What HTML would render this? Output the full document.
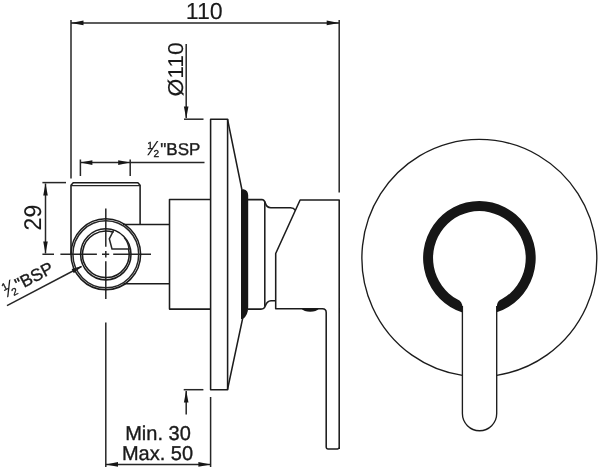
<!DOCTYPE html>
<html lang="en">
<head>
<meta charset="utf-8">
<title>Concealed shower mixer – dimension drawing</title>
<style>
  html, body { margin: 0; padding: 0; background: #ffffff; }
  body { width: 600px; height: 471px; overflow: hidden; }
  svg { display: block; }
  text { font-family: "Liberation Sans", Arial, Helvetica, sans-serif; fill: #1a1a1a; stroke: #1a1a1a; stroke-width: 0.35px; text-rendering: geometricPrecision; }
  svg { will-change: transform; }
  .m { fill: none; stroke: #1c1c1c; stroke-width: 1.55; stroke-linecap: butt; stroke-linejoin: round; }
  .t { fill: none; stroke: #262626; stroke-width: 1.5; }
  .f { fill: none; stroke: #1c1c1c; stroke-width: 1.35; }
  .k { fill: #161616; stroke: none; }
</style>
</head>
<body>
<svg width="600" height="471" viewBox="0 0 600 471">
  <rect x="0" y="0" width="600" height="471" fill="#ffffff"/>

  <!-- ===== dimension: overall 110 ===== -->
  <g id="dim-top">
    <line class="t" x1="71" y1="20" x2="71" y2="178.5"/>
    <line class="t" x1="339.2" y1="20" x2="339.2" y2="192.5"/>
    <line class="t" x1="71" y1="22.9" x2="339.2" y2="22.9"/>
    <polygon class="k" points="71,22.9 83.5,20.6 83.5,25.2"/>
    <polygon class="k" points="339.2,22.9 326.7,20.6 326.7,25.2"/>
    <text x="204.2" y="19.4" font-size="23.2" text-anchor="middle" style="stroke-width:0.1px">110</text>
  </g>

  <!-- ===== dimension: Ø110 ===== -->
  <g id="dim-dia">
    <line class="t" x1="186.2" y1="44" x2="186.2" y2="118"/>
    <polygon class="k" points="186.2,118.5 183.9,106.5 188.5,106.5"/>
    <line class="t" x1="184" y1="119.2" x2="203.5" y2="119.2"/>
    <text transform="translate(182.6,96.6) rotate(-90) scale(1.03,0.97)" font-size="22.2" style="stroke-width:0.1px">Ø110</text>
    <line class="t" x1="186.2" y1="414.5" x2="186.2" y2="391"/>
    <polygon class="k" points="186.2,390.5 183.9,402.5 188.5,402.5"/>
    <line class="t" x1="183.7" y1="389.7" x2="203.4" y2="389.7"/>
  </g>

  <!-- ===== dimension: 1/2" BSP (top) ===== -->
  <g id="dim-bsp-top">
    <line class="t" x1="80.4" y1="159.5" x2="80.4" y2="176"/>
    <line class="t" x1="130.2" y1="159.5" x2="130.2" y2="176"/>
    <line class="t" x1="80.4" y1="162.6" x2="204.5" y2="162.6"/>
    <polygon class="k" points="80.4,162.6 92.4,160.3 92.4,164.9"/>
    <polygon class="k" points="130.2,162.6 118.2,160.3 118.2,164.9"/>
    <g transform="translate(147,155)">
      <text x="0.2" y="-6.4" font-size="10.3">1</text>
      <text transform="translate(0.2,0.4) skewX(-22)" font-size="19.5" style="stroke:none">/</text>
      <text x="6.6" y="2.3" font-size="10">2</text>
      <text x="13.3" y="0" font-size="17">"BSP</text>
    </g>
  </g>

  <!-- ===== dimension: 29 ===== -->
  <g id="dim-29">
    <line class="t" x1="42.4" y1="182.6" x2="66" y2="182.6"/>
    <line class="t" x1="45.5" y1="183.5" x2="45.5" y2="253.5"/>
    <polygon class="k" points="45.5,183.4 43.2,195.4 47.8,195.4"/>
    <polygon class="k" points="45.5,253.6 43.2,241.6 47.8,241.6"/>
    <text transform="translate(41,230.4) rotate(-90) scale(0.95,1)" font-size="24.2" style="stroke-width:0.1px">29</text>
  </g>

  <!-- ===== dimension: 1/2" BSP (leader) ===== -->
  <g id="dim-bsp-leader">
    <line class="t" x1="7" y1="305.6" x2="81.5" y2="266.5"/>
    <polygon class="k" points="82.2,266.1 71.6,269.0 73.8,273.2"/>
    <g transform="translate(6.6,297.1) rotate(-27.5) scale(1.02)">
      <text x="0.2" y="-6.4" font-size="10.3">1</text>
      <text transform="translate(0.2,0.4) skewX(-22)" font-size="19.5" style="stroke:none">/</text>
      <text x="6.6" y="2.3" font-size="10">2</text>
      <text x="13.3" y="0" font-size="17">"BSP</text>
    </g>
  </g>

  <!-- ===== dimension: Min 30 / Max 50 ===== -->
  <g id="dim-depth">
    <line class="t" x1="105.8" y1="322.5" x2="105.8" y2="467"/>
    <line class="t" x1="210.6" y1="397" x2="210.6" y2="467"/>
    <line class="t" x1="105.8" y1="464.4" x2="210.6" y2="464.4"/>
    <polygon class="k" points="105.8,464.4 118,462.1 118,466.7"/>
    <polygon class="k" points="210.6,464.4 198.4,462.1 198.4,466.7"/>
    <text x="158" y="439.7" font-size="20" text-anchor="middle">Min. 30</text>
    <text x="157.5" y="459.8" font-size="20" text-anchor="middle">Max. 50</text>
  </g>

  <!-- ===== centre lines of inlet ===== -->
  <g id="centre-lines">
    <path class="t" d="M105.8 208.5V246.8 M105.8 250.9V257.6 M105.8 261.2V299"/>
    <path class="t" d="M42.4 254.3H54 M60.4 254.3H96.9 M102 254.3H109.2 M113.2 254.3H151"/>
  </g>

  <!-- ===== side view: inlet body ===== -->
  <g id="side-inlet">
    <path class="m" d="M71 254V185.3L73.2 182.8H137.9L140.1 185.3V224.6"/>
    <line class="t" style="stroke-width:1.1" x1="71" y1="185.6" x2="140.1" y2="185.6"/>
    <path class="m" d="M123 224.5H169.5 M123.5 283.8H169.5"/>
    <ellipse class="m" cx="105.8" cy="254.3" rx="34.8" ry="35.5"/>
    <ellipse class="t" cx="105.8" cy="254.3" rx="32.9" ry="33.5"/>
    <ellipse class="m" cx="105.8" cy="254.3" rx="25.2" ry="25.6"/>
    <path class="m" d="M113.6 232.35A23.3 23.3 0 1 0 128.5 249"/>
    <path class="t" d="M113.8 230L109.3 238.8L112 249H130.7 M124.3 237.6Q128.6 243 129 249"/>
  </g>

  <!-- ===== side view: valve body, plate, handle ===== -->
  <g id="side-body">
    <path class="m" d="M210.6 199.5H169.5V309.1H210.6"/>
    <rect class="m" x="210.6" y="119.2" width="17" height="270.5"/>
    <path class="m" d="M227.5 119.2L241.9 189.6 M227.5 389.7L242.6 318.6"/>
    <path class="k" d="M241 189.2H243.5Q248.2 190.2 248.2 195.5V307Q248 315.5 243 318.9H241Z"/>
    <path class="m" d="M248 199.6H261.8Q264.2 199.8 265.3 203Q266.6 207.6 270.8 207.7H290.5Q293.8 207.8 295.4 210.3"/>
    <path class="m" d="M248 309.1H261.5Q264.3 309 265.5 305.5Q267 301 271 300.8H275.7"/>
    <line class="m" x1="264.8" y1="201.5" x2="264.8" y2="306"/>
    <path class="m" d="M339.2 449V200H300.1L275.7 253.5V308.8H322.4Q326.2 308.8 326.2 312.6V447.3Q326.2 448.9 327.8 448.9H337.6Q339.2 448.9 339.2 447.3"/>
    <path class="k" d="M301.5 308.8H318.9Q316.4 311.8 310.2 311.8Q304 311.8 301.5 308.8Z"/>
  </g>

  <!-- ===== front view ===== -->
  <g id="front-view">
    <path class="f" d="M462.4 375.36A117.45 118.6 0 1 1 496.7 375.30"/>
    <path class="k" d="M462.4 312.44A56.3 57.05 0 1 1 496.7 312.34V307.2Q496.7 301.31 501.9 299.11A46.35 46.97 0 1 0 457.2 299.28Q462.4 301.48 462.4 307.2Z"/>
    <path class="f" d="M462.4 306V413.55A17.15 17.15 0 0 0 496.7 413.55V306"/>
  </g>
</svg>
</body>
</html>
